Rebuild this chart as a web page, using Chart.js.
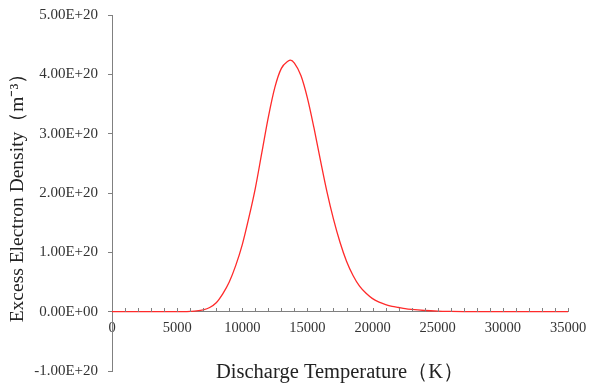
<!DOCTYPE html>
<html lang="en">
<head>
<meta charset="UTF-8">
<title>Excess Electron Density</title>
<script src="https://cdn.jsdelivr.net/npm/chart.js"></script>
<style>
  body { margin: 0; background: #fff; }
  #wrap { width: 589px; height: 385px; }
</style>
</head>
<body>
<div id="wrap"><canvas id="densityChart" width="589" height="385"></canvas></div>
<script>
// discharge temperature (K)
const temps = [0, 1000, 2000, 3000, 4000, 5000, 5500, 6000, 6500, 7000, 7500, 8000, 8500, 9000, 9500,
  10000, 10500, 11000, 11500, 12000, 12500, 13000, 13500, 13700, 14000, 14500, 15000, 15500, 16000, 16500,
  17000, 17500, 18000, 18500, 19000, 19500, 20000, 20500, 21000, 21500, 22000, 22500, 23000, 24000, 25000,
  26000, 27000, 28000, 29000, 30000, 31000, 32000, 33000, 34000, 35000];
// excess electron density (m^-3)
const density = [0, 0, 0, 0, 0, 0, 0.001e20, 0.005e20, 0.012e20, 0.03e20, 0.07e20, 0.15e20, 0.30e20, 0.50e20, 0.78e20,
  1.13e20, 1.58e20, 2.08e20, 2.68e20, 3.28e20, 3.78e20, 4.10e20, 4.22e20, 4.24e20, 4.19e20, 3.98e20, 3.60e20, 3.10e20, 2.55e20, 2.02e20,
  1.56e20, 1.17e20, 0.85e20, 0.61e20, 0.43e20, 0.31e20, 0.22e20, 0.16e20, 0.12e20, 0.09e20, 0.07e20, 0.05e20, 0.037e20, 0.02e20, 0.01e20,
  0.005e20, 0.002e20, 0.001e20, 0, 0, 0, 0, 0, 0, 0];

const xTicks = { min: 0, max: 35000, step: 5000, minorStep: 1000 };
const yTicks = { min: -1e20, max: 5e20, step: 1e20 };

function sci(v) {
  if (Math.abs(v) < 1e10) return '0.00E+00';
  const parts = v.toExponential(2).split('e');
  const n = parseInt(parts[1], 10);
  return parts[0] + 'E' + (n < 0 ? '-' : '+') + String(Math.abs(n)).padStart(2, '0');
}

// small upward ticks along the zero line
const minorTicks = {
  id: 'minorTicks',
  afterDraw(chart) {
    const { ctx, scales: { x, y } } = chart;
    const y0 = Math.round(y.getPixelForValue(0));
    ctx.save();
    ctx.strokeStyle = '#808080';
    ctx.lineWidth = 1;
    ctx.beginPath();
    for (let t = xTicks.minorStep; t <= xTicks.max; t += xTicks.minorStep) {
      const px = Math.round(x.getPixelForValue(t)) + 0.5;
      ctx.moveTo(px, y0);
      ctx.lineTo(px, y0 - 4);
    }
    ctx.stroke();
    ctx.restore();
  }
};

const serif = 'Liberation Serif';

new Chart(document.getElementById('densityChart'), {
  type: 'line',
  data: {
    datasets: [{
      data: temps.map((t, i) => ({ x: t, y: density[i] })),
      borderColor: '#ff2a2a',
      borderWidth: 1.3,
      pointRadius: 0,
      cubicInterpolationMode: 'monotone',
      fill: false
    }]
  },
  options: {
    responsive: false,
    animation: false,
    layout: { padding: { top: 15, right: 21, bottom: 14, left: 0 } },
    plugins: { legend: { display: false }, tooltip: { enabled: false } },
    scales: {
      x: {
        type: 'linear',
        position: { y: 0 },
        min: xTicks.min,
        max: xTicks.max,
        afterFit(scale) { scale.paddingLeft = 0; scale.paddingRight = 0; },
        grid: { display: true, drawOnChartArea: false, drawTicks: false },
        border: { color: '#808080', width: 1 },
        ticks: {
          stepSize: xTicks.step,
          padding: 8,
          color: '#333',
          font: { family: serif, size: 14.5 },
          callback: v => String(v)
        },
        title: {
          display: true,
          text: 'Discharge Temperature（K）',
          color: '#222',
          font: { family: serif, size: 20.5 },
          padding: { top: 15, bottom: 0 }
        }
      },
      y: {
        min: yTicks.min,
        max: yTicks.max,
        afterFit(scale) { scale.width = 112; scale.paddingTop = 0; scale.paddingBottom = 0; },
        grid: { display: true, drawOnChartArea: false, drawTicks: true, tickLength: 4, color: '#808080' },
        border: { color: '#808080', width: 1 },
        ticks: {
          stepSize: yTicks.step,
          padding: 10,
          color: '#333',
          font: { family: serif, size: 15 },
          callback: v => sci(v)
        },
        title: {
          display: true,
          text: 'Excess Electron Density（m⁻³）',
          color: '#222',
          font: { family: serif, size: 19.5 },
          padding: { top: 6, bottom: 0 }
        }
      }
    }
  },
  plugins: [minorTicks]
});
</script>
</body>
</html>
